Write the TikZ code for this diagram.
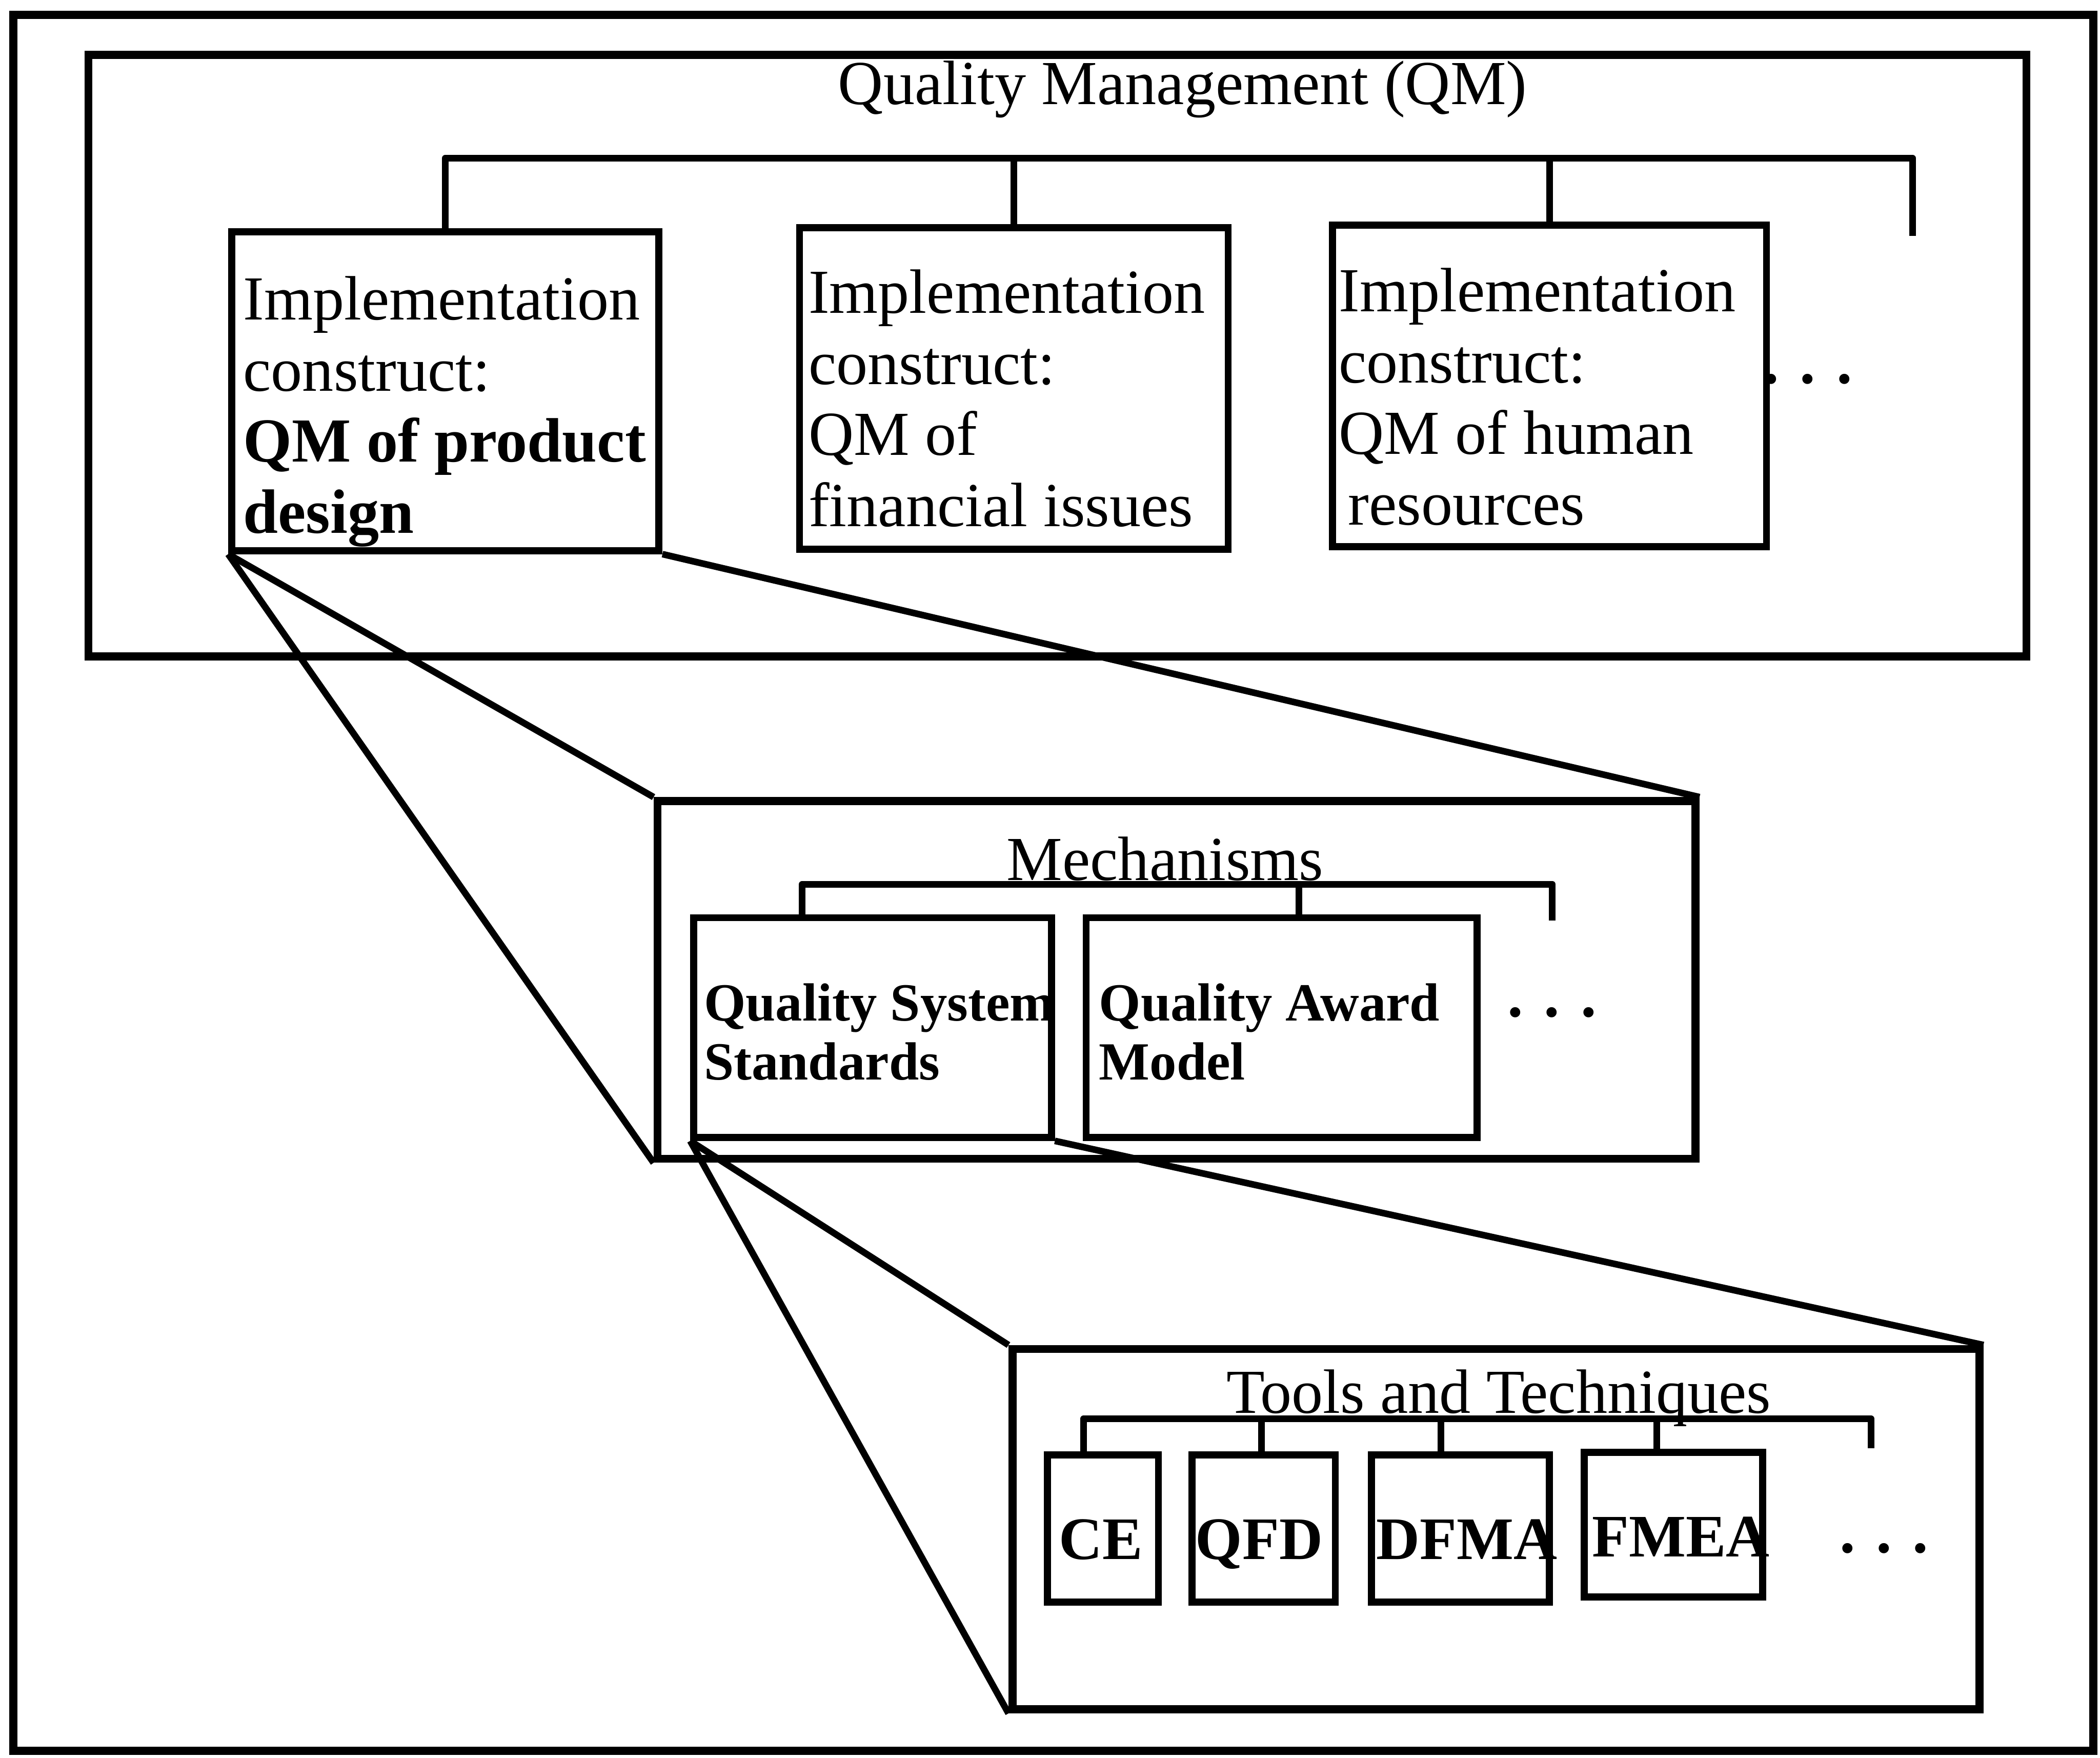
\documentclass[tikz,border=0pt]{standalone}
\usepackage{fontspec}
\setmainfont{Liberation Serif}
\usetikzlibrary{fit}
\begin{document}
\begin{tikzpicture}[x=0.01cm,y=-0.01cm,
  frame/.style={draw, line width=1.7pt, inner sep=0pt},
  box/.style={draw, line width=1.5pt, inner sep=0pt},
  link/.style={line width=1.4pt, line join=round},
  bigfont/.style={font=\fontsize{13.3}{15.1}\selectfont},
  midfont/.style={font=\fontsize{11.4}{12.5}\selectfont\bfseries},
  toolfont/.style={font=\fontsize{12.8}{14}\selectfont\bfseries},
  txt/.style={inner sep=0pt, anchor=base west, align=left},
  title/.style={inner sep=0pt, anchor=base},
  dots/.style={inner sep=0pt, anchor=base west, font=\fontsize{13.3}{15}\selectfont\bfseries}]

\useasboundingbox (0,0) rectangle (1568,1312);

% outer border
\node[frame, fit={(10,11) (1563,1307)}] (outer) {};

% level 1: quality management
\node[frame, fit={(66,41) (1513,490)}] (qm) {};
\node[title, bigfont] (qmtitle) at (883,78) {Quality Management (QM)};
\node[box, fit={(173,173) (492,411)}] (b1) {};
\node[box, fit={(597,170) (917,410)}] (b2) {};
\node[box, fit={(995,168) (1319,408)}] (b3) {};
% multi-line labels are placed by the baseline of their last line
\node[txt, bigfont] (t1) at (181,398) {Implementation\\construct:\\\textbf{QM of product}\\\textbf{design}};
\node[txt, bigfont] (t2) at (603,393) {Implementation\\construct:\\QM of\\financial issues};
\node[txt, bigfont] (t3) at (999,392) {Implementation\\construct:\\QM of human\\\hspace{2pt}resources};
\node[dots] (d1) at (1316,286) {. . .};

\coordinate (qmL) at (333,118);
\coordinate (qmR) at (1428,118);
\coordinate (qmE) at (1428,176);
\draw[link] (b1.north) -- (b1.north |- qmL) -- (qmR) -- (qmE);
\draw[link] (b2.north) -- (b2.north |- qmL);
\draw[link] (b3.north) -- (b3.north |- qmL);

% level 2: mechanisms
\node[frame, fit={(491,598) (1266,865)}] (mech) {};
\node[title, bigfont] (mtitle) at (870,657) {Mechanisms};
\node[box, fit={(518,685) (785,849)}] (qss) {};
\node[box, fit={(811,685) (1103,849)}] (qam) {};
\node[txt, midfont] (tq1) at (525,806) {Quality System\\Standards};
\node[txt, midfont] (tq2) at (820,806) {Quality Award\\Model};
\node[dots] (d2) at (1125,759) {. . .};

\coordinate (mL) at (599,660);
\coordinate (mQ) at (970,660);
\coordinate (mR) at (1159,660);
\coordinate (mE) at (1159,687);
\draw[link] (mL |- qss.north) -- (mL) -- (mR) -- (mE);
\draw[link] (mQ) -- (mQ |- qam.north);

% level 3: tools and techniques
\node[frame, fit={(756,1007) (1478,1276)}] (tools) {};
\node[title, bigfont] (ttitle) at (1119,1055) {Tools and Techniques};
\node[box, fit={(782,1086) (865,1196)}] (ce) {};
\node[box, fit={(890,1086) (997,1196)}] (qfd) {};
\node[box, fit={(1024,1086) (1157,1196)}] (dfma) {};
\node[box, fit={(1183,1084) (1316,1192)}] (fmea) {};
\node[txt, toolfont] (tce) at (790,1164) {CE};
\node[txt, toolfont] (tqfd) at (892,1164) {QFD};
\node[txt, toolfont] (tdfma) at (1027,1164) {DFMA};
\node[txt, toolfont] (tfmea) at (1188,1162) {FMEA};
\node[dots] (d3) at (1373,1159) {. . .};

\coordinate (tL) at (809,1059);
\coordinate (tB) at (942,1059);
\coordinate (tC) at (1076,1059);
\coordinate (tD) at (1237,1059);
\coordinate (tR) at (1397,1059);
\coordinate (tE) at (1397,1081);
\draw[link] (tL |- ce.north) -- (tL) -- (tR) -- (tE);
\draw[link] (tB) -- (tB |- qfd.north);
\draw[link] (tC) -- (tC |- dfma.north);
\draw[link] (tD) -- (tD |- fmea.north);

% zoom lines between levels
\draw[link] (b1.south west) -- (mech.north west);
\draw[link] (b1.south west) -- (mech.south west);
\draw[link] (b1.south east) -- (mech.north east);
\draw[link] (qss.south west) -- (tools.north west);
\draw[link] (qss.south west) -- (tools.south west);
\draw[link] (qss.south east) -- (tools.north east);
\end{tikzpicture}
\end{document}
